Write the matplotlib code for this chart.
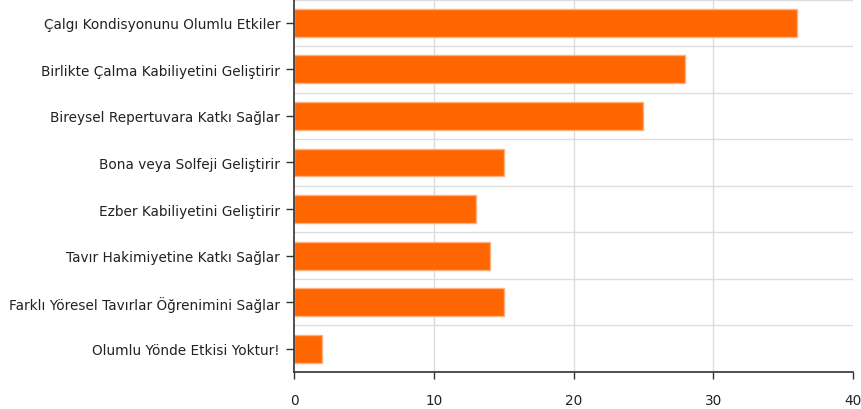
import matplotlib
matplotlib.use("Agg")
import matplotlib.pyplot as plt
import numpy as np

categories = [
    "Çalgı Kondisyonunu Olumlu Etkiler",
    "Birlikte Çalma Kabiliyetini Geliştirir",
    "Bireysel Repertuvara Katkı Sağlar",
    "Bona veya Solfeji Geliştirir",
    "Ezber Kabiliyetini Geliştirir",
    "Tavır Hakimiyetine Katkı Sağlar",
    "Farklı Yöresel Tavırlar Öğrenimini Sağlar",
    "Olumlu Yönde Etkisi Yoktur!",
]
values = [36, 28, 25, 15, 13, 14, 15, 2]
xticks = [0, 10, 20, 30, 40]

plt.rcParams['font.family'] = ['DejaVu Sans']

fig = plt.figure(figsize=(8.61, 4.10), dpi=100)
ax = fig.add_axes([294/861, 1 - 373/410, (853-294)/861, 372.5/410])

n = len(categories)
ypos = np.arange(n)
ax.barh(ypos, values, height=0.6, color="#FF6600", edgecolor="#FFB080", linewidth=1.0, zorder=3)

ax.set_ylim(n - 0.5, -0.5)
ax.set_xlim(0, 40)
ax.set_xticks(xticks)
ax.set_xticklabels([str(t) for t in xticks])
ax.set_yticks(ypos)
ax.set_yticklabels(categories)

# grid lines
for t in xticks[1:]:
    ax.axvline(t, color="#DDDDDD", linewidth=1, zorder=1)
for b in np.arange(-0.5, n, 1.0):
    ax.axhline(b, color="#DDDDDD", linewidth=1, zorder=1)

for s in ["top", "right"]:
    ax.spines[s].set_visible(False)
for s in ["left", "bottom"]:
    ax.spines[s].set_color("#333333")
    ax.spines[s].set_linewidth(1.2)
    ax.spines[s].set_zorder(4)

ax.tick_params(axis="y", length=6, width=1, color="#333333", labelsize=9.8, labelcolor="#222222", pad=4)
ax.tick_params(axis="x", length=5, width=1, color="#333333", labelsize=9.8, labelcolor="#222222", pad=10)

fig.savefig("out.png", dpi=100)
